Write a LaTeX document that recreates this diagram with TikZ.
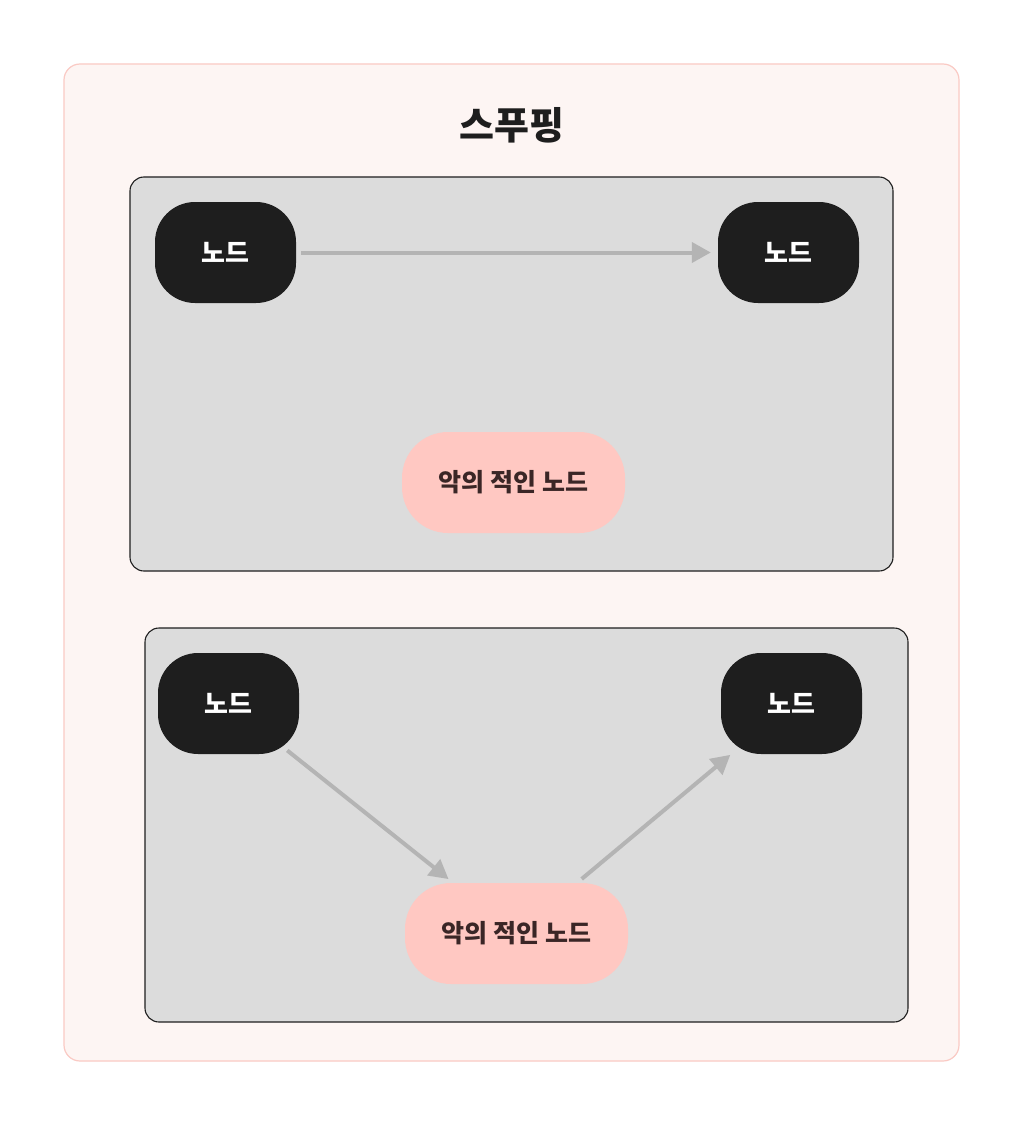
\documentclass[tikz,border=0pt]{standalone}
\usepackage{fontspec}
\newfontfamily\kr{Noto Sans CJK KR}
\usetikzlibrary{arrows.meta}
\definecolor{outerfill}{HTML}{FDF5F3}
\definecolor{outerline}{HTML}{FACAC4}
\definecolor{boxfill}{HTML}{DCDCDC}
\definecolor{boxline}{HTML}{1E1E1E}
\definecolor{darknode}{HTML}{1E1E1E}
\definecolor{pinknode}{HTML}{FFC8C2}
\definecolor{pinktext}{HTML}{3A2626}
\definecolor{arrowgray}{HTML}{B4B4B4}
\tikzset{
  outerbox/.style={draw=outerline, fill=outerfill, line width=1.2pt, rounded corners=16pt},
  groupbox/.style={draw=boxline, fill=boxfill, line width=1.1pt, rounded corners=14pt},
  darkbox/.style={fill=darknode, text=white, rounded corners=40pt, minimum width=141pt, minimum height=101pt, inner sep=0pt, font=\kr\bfseries\fontsize{26}{30}\selectfont},
  pinkbox/.style={fill=pinknode, text=pinktext, rounded corners=46pt, minimum width=223pt, minimum height=101pt, inner sep=0pt, font=\kr\bfseries\fontsize{25}{30}\selectfont},
  titletext/.style={text=boxline, font=\kr\bfseries\fontsize{38}{44}\selectfont, inner sep=0pt},
  link/.style={draw=arrowgray, line width=4pt, -{Triangle[length=19pt,width=20pt]}}
}
\begin{document}
\begin{tikzpicture}[x=1pt,y=-1pt]
\useasboundingbox (0,0) rectangle (1024,1126);
\fill[white] (0,0) rectangle (1024,1126);
\draw[outerbox] (64,64) rectangle (959,1061);
\node[titletext] (title) at (512,125) {스푸핑};
% group 1
\draw[groupbox] (130,177) rectangle (893,571);
\node[darkbox] (a1) at (225.5,252.5) {노드};
\node[darkbox] (b1) at (788.5,252.5) {노드};
\node[pinkbox] (p1) at (513.5,482.5) {악의 적인 노드};
\draw[link, shorten <=5pt, shorten >=7pt] (a1) -- (b1);
% group 2
\draw[groupbox] (145,628) rectangle (908,1022);
\node[darkbox] (a2) at (228.5,703.5) {노드};
\node[darkbox] (b2) at (791.5,703.5) {노드};
\node[pinkbox] (p2) at (516.5,933.5) {악의 적인 노드};
\draw[link, shorten <=-6pt, shorten >=6pt] (a2) -- (p2);
\draw[link, shorten <=6pt, shorten >=1pt] (p2) -- (b2);
\end{tikzpicture}
\end{document}
